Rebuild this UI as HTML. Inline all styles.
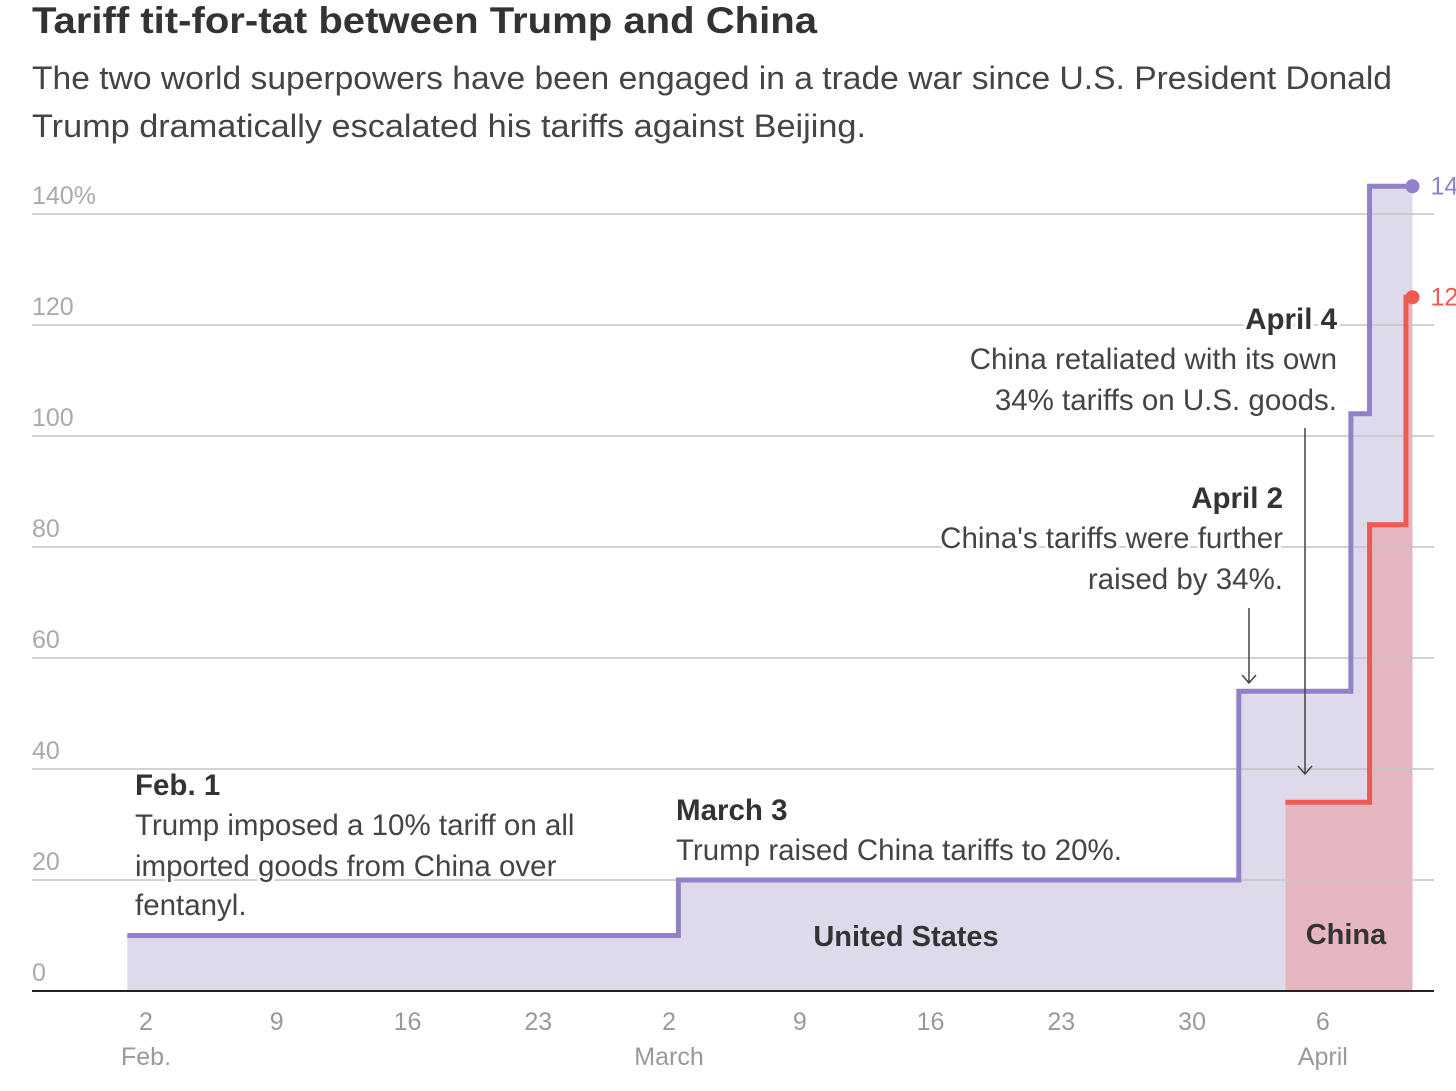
<!DOCTYPE html>
<html><head><meta charset="utf-8">
<style>
html,body{margin:0;padding:0;background:#fff;width:1456px;height:1091px;overflow:hidden}
svg{display:block}
text{font-family:"Liberation Sans",sans-serif}
.halo{paint-order:stroke;stroke:#fff;stroke-width:6px;stroke-linejoin:round}
</style></head><body>
<svg id="chart" width="1456" height="1091" viewBox="0 0 1456 1091">
<text x="32" y="33" font-size="37" font-weight="bold" fill="#333" textLength="785" lengthAdjust="spacingAndGlyphs">Tariff tit-for-tat between Trump and China</text>
<text font-size="32" fill="#444"><tspan x="32" y="89" textLength="1360" lengthAdjust="spacingAndGlyphs">The two world superpowers have been engaged in a trade war since U.S. President Donald</tspan><tspan x="32" y="137" textLength="834" lengthAdjust="spacingAndGlyphs">Trump dramatically escalated his tariffs against Beijing.</tspan></text>
<g id="grid"></g>
<g id="series"></g>
<g id="annot">
<line x1="1249" y1="608" x2="1249" y2="683" stroke="#444" stroke-width="1.5"/>
<path d="M1242 675 L1249 683 L1256 675" fill="none" stroke="#444" stroke-width="1.5"/>
<line x1="1305" y1="428" x2="1305" y2="774" stroke="#444" stroke-width="1.5"/>
<path d="M1298 766 L1305 774 L1312 766" fill="none" stroke="#444" stroke-width="1.5"/>
<g font-size="29.5" fill="#333" class="halo">
<text x="135" y="795" font-weight="bold">Feb. 1</text>
<text fill="#444"><tspan x="135" y="835">Trump imposed a 10% tariff on all</tspan><tspan x="135" y="876">imported goods from China over</tspan><tspan x="135" y="915">fentanyl.</tspan></text>
<text x="676" y="820" font-weight="bold">March 3</text>
<text x="676" y="860" fill="#444">Trump raised China tariffs to 20%.</text>
<text x="1283" y="508" text-anchor="end" font-weight="bold">April 2</text>
<text text-anchor="end" fill="#444"><tspan x="1283" y="548">China's tariffs were further</tspan><tspan x="1283" y="589">raised by 34%.</tspan></text>
<text x="1337" y="329" text-anchor="end" font-weight="bold">April 4</text>
<text text-anchor="end" fill="#444"><tspan x="1337" y="369">China retaliated with its own</tspan><tspan x="1337" y="410">34% tariffs on U.S. goods.</tspan></text>
</g>
<text x="906" y="946" font-size="29" font-weight="bold" fill="#333" text-anchor="middle">United States</text>
<text x="1346" y="944" font-size="29" font-weight="bold" fill="#333" text-anchor="middle">China</text>
</g>
<g id="xaxis"></g>
</svg>
<script>
const yTicks=[0,20,40,60,80,100,120,140];
const yTickLabels=["0","20","40","60","80","100","120","140%"];
const xTickDays=[0,7,14,21,28,35,42,49,56,63];
const xTickLabels=["2","9","16","23","2","9","16","23","30","6"];
const xMonthLabels=["Feb.","","","","March","","","","","April"];
// days relative to Feb 2
const usStepDays=[-1,28.5,58.5,64.5,65.5];
const usValues=[10,20,54,104,145];
const usEndDay=67.8;
const cnStepDays=[61,65.5,67.45];
const cnValues=[34,84,125];
const cnEndDay=67.8;

const NS="http://www.w3.org/2000/svg";
const x=d=>146+d*18.68;
const y=v=>991-v*5.55;
function mk(tag,attrs,parent){const e=document.createElementNS(NS,tag);for(const k in attrs)e.setAttribute(k,attrs[k]);parent.appendChild(e);return e;}
const grid=document.getElementById('grid'),ser=document.getElementById('series'),xa=document.getElementById('xaxis');

function stepPath(days,vals,end){let d=`M${x(days[0])},${y(vals[0])}`;for(let i=1;i<days.length;i++){d+=` H${x(days[i])} V${y(vals[i])}`;}d+=` H${x(end)}`;return d;}
function areaPath(days,vals,end){return stepPath(days,vals,end)+` V${y(0)} H${x(days[0])} Z`;}

let a=mk('path',{d:areaPath(usStepDays,usValues,usEndDay),fill:'#dedaec'},ser);


a=mk('path',{d:areaPath(cnStepDays,cnValues,cnEndDay),fill:'#e6b6c0'},ser);



yTicks.forEach((v,i)=>{
  let l=mk('line',{x1:32,x2:1434,y1:y(v),y2:y(v),stroke:'#c4c4c4','stroke-width':1.5},ser);
  
  
  let t=mk('text',{x:32,y:y(v)-10,'font-size':25,fill:'#aaa'},grid);
  t.textContent=yTickLabels[i];
  
  
});

let p=mk('path',{d:stepPath(usStepDays,usValues,usEndDay),fill:'none',stroke:'#9280c8','stroke-width':5},ser);


p=mk('path',{d:stepPath(cnStepDays,cnValues,cnEndDay),fill:'none',stroke:'#ee5a52','stroke-width':5},ser);


let c=mk('circle',{cx:x(usEndDay),cy:y(usValues[usValues.length-1]),r:7,fill:'#9280c8'},ser);


c=mk('circle',{cx:x(cnEndDay),cy:y(cnValues[cnValues.length-1]),r:7,fill:'#ee5a52'},ser);


let t=mk('text',{x:x(usEndDay)+18,y:y(usValues[usValues.length-1])+8,'font-size':25,fill:'#9280c8'},ser);
t.textContent=String(usValues[usValues.length-1]);


t=mk('text',{x:x(cnEndDay)+18,y:y(cnValues[cnValues.length-1])+8,'font-size':25,fill:'#ee5a52'},ser);
t.textContent=String(cnValues[cnValues.length-1]);



let b=mk('line',{x1:32,x2:1434,y1:y(0),y2:y(0),stroke:'#222','stroke-width':2},xa);


xTickDays.forEach((d,i)=>{
  let t=mk('text',{x:x(d),y:1030,'font-size':25,fill:'#999','text-anchor':'middle'},xa);
  t.textContent=xTickLabels[i];
  
  
  if(xMonthLabels[i]){
    let m=mk('text',{x:x(d),y:1065,'font-size':25,fill:'#999','text-anchor':'middle'},xa);
    m.textContent=xMonthLabels[i];
    
    
  }
});
</script>
</body></html>
